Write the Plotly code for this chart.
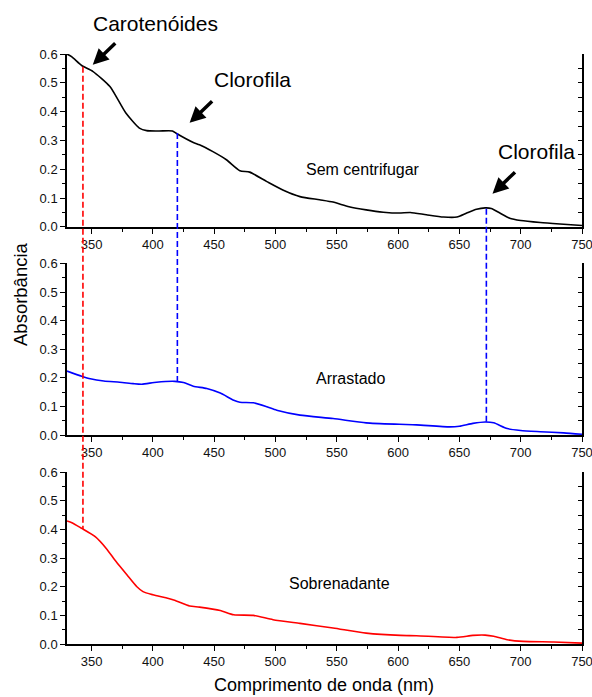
import plotly.graph_objects as go

# ---------------- data ----------------
wl_sem = [330, 334, 342, 351, 365, 378, 389, 395, 405, 416, 419, 433, 438, 449, 460, 471, 479, 493, 506, 520,
          536, 547, 560, 574, 588, 601, 610, 623, 637, 648, 656, 664, 671, 676, 683, 691, 700, 716, 732, 750]
abs_sem = [0.600, 0.590, 0.560, 0.540, 0.487, 0.395, 0.343, 0.334, 0.333, 0.333, 0.325, 0.293, 0.285, 0.261,
           0.233, 0.195, 0.190, 0.157, 0.128, 0.105, 0.094, 0.086, 0.070, 0.059, 0.051, 0.048, 0.050, 0.042,
           0.034, 0.034, 0.048, 0.061, 0.066, 0.064, 0.048, 0.030, 0.022, 0.015, 0.010, 0.005]

wl_arr = [330, 342, 349, 360, 373, 384, 391, 403, 418, 425, 433, 444, 455, 466, 471, 482, 493, 501, 520,
          547, 574, 601, 615, 642, 650, 661, 671, 678, 689, 700, 716, 735, 750]
abs_arr = [0.224, 0.206, 0.197, 0.189, 0.185, 0.180, 0.178, 0.185, 0.188, 0.184, 0.171, 0.163, 0.147, 0.122,
           0.115, 0.113, 0.099, 0.087, 0.070, 0.058, 0.043, 0.038, 0.036, 0.029, 0.031, 0.041, 0.046, 0.043,
           0.023, 0.016, 0.012, 0.008, 0.003]

wl_sob = [330, 334, 342, 353, 362, 370, 379, 387, 392, 400, 417, 430, 438, 455, 466, 482, 498, 520,
          547, 574, 602, 615, 648, 661, 671, 678, 689, 702, 727, 750]
abs_sob = [0.430, 0.424, 0.404, 0.375, 0.334, 0.288, 0.241, 0.200, 0.183, 0.172, 0.154, 0.133, 0.129, 0.117,
           0.102, 0.100, 0.085, 0.072, 0.056, 0.038, 0.030, 0.029, 0.023, 0.030, 0.031, 0.027, 0.015, 0.009,
           0.007, 0.003]

panel_names = ["Sem centrifugar", "Arrastado", "Sobrenadante"]
panel_colors = ["black", "#0000ff", "#ff0000"]

# dashed guide lines: wavelength, (panel, value) top, (panel, value) bottom, colour
guide_wl = [343, 420, 672]
guide_top = [(0, 0.556), (0, 0.326), (0, 0.063)]
guide_bottom = [(2, 0.402), (1, 0.189), (1, 0.047)]
guide_colors = ["#ff0000", "#0000ff", "#0000ff"]

# peak labels with arrows (panel 1): text, arrow head (wl, abs), label centre (wl, abs)
peak_labels = ["Carotenóides", "Clorofila", "Clorofila"]
arrow_heads = [(351, 0.5625), (430, 0.361), (677, 0.115)]
label_pos = [(402, 0.705), (481, 0.51), (713, 0.26)]
name_pos = [(571, 0.20), (561, 0.199), (552, 0.21)]

# ---------------- figure ----------------
domains = [[0.707, 1.0], [0.354, 0.645], [0.0, 0.291]]
YMAX = 0.6
FONT = "Liberation Sans, Arial, sans-serif"

def to_paper(panel, v):
    d0, d1 = domains[panel]
    return d0 + v / YMAX * (d1 - d0)

fig = go.Figure()
series = [(wl_sem, abs_sem), (wl_arr, abs_arr), (wl_sob, abs_sob)]
for i, (xs, ys) in enumerate(series):
    sfx = "" if i == 0 else str(i + 1)
    fig.add_trace(go.Scatter(x=xs, y=ys, mode="lines", xaxis="x" + sfx, yaxis="y" + sfx,
                             line=dict(color=panel_colors[i], width=1.6, shape="spline", smoothing=0.6),
                             showlegend=False, hoverinfo="skip"))
    # invisible trace for right-hand tick axis
    fig.add_trace(go.Scatter(x=[None], y=[None], xaxis="x" + sfx, yaxis="y" + str(i + 4),
                             showlegend=False, hoverinfo="skip"))

layout = dict(width=592, height=697, margin=dict(l=67, r=10, t=54, b=53, autoexpand=False),
              paper_bgcolor="white", plot_bgcolor="white",
              font=dict(family=FONT, color="black", size=13), showlegend=False)

for i in range(3):
    sfx = "" if i == 0 else str(i + 1)
    layout["xaxis" + sfx] = dict(
        range=[330, 750], domain=[0, 1], anchor="y" + sfx, tick0=350, dtick=50,
        ticks="outside", ticklen=5, tickwidth=1.2, tickcolor="black",
        showline=True, linecolor="black", linewidth=1.5, showgrid=False, zeroline=False,
        tickfont=dict(size=13, color="#111"), ticklabeloverflow="allow",
        minor=dict(ticks="outside", dtick=25, tick0=350, ticklen=3, tickcolor="black", tickwidth=1.2),
    )
    layout["yaxis" + sfx] = dict(
        range=[0, YMAX], domain=domains[i], anchor="x" + sfx, dtick=0.1, tickformat=".1f",
        ticks="outside", ticklen=5, tickwidth=1.2, tickcolor="black",
        showline=True, linecolor="black", linewidth=1.5, showgrid=False, zeroline=False,
        tickfont=dict(size=13, color="#111"),
        minor=dict(ticks="outside", dtick=0.05, ticklen=3, tickcolor="black", tickwidth=1.2),
    )
    layout["yaxis" + str(i + 4)] = dict(
        range=[0, YMAX], overlaying="y" + sfx, side="right", anchor="x" + sfx,
        dtick=0.05, ticks="inside", ticklen=4, tickwidth=1.2, tickcolor="black",
        showticklabels=False, showline=True, linecolor="black", linewidth=1.5,
        showgrid=False, zeroline=False,
    )

fig.update_layout(**layout)

# dashed guides
for wl, (tp, tv), (bp, bv), col in zip(guide_wl, guide_top, guide_bottom, guide_colors):
    fig.add_shape(type="line", xref="x", yref="paper", x0=wl, x1=wl,
                  y0=to_paper(tp, tv), y1=to_paper(bp, bv),
                  line=dict(color=col, width=1.6, dash="6px,3px"))

# peak labels and arrows
for txt, (hx, hy), (lx, ly) in zip(peak_labels, arrow_heads, label_pos):
    fig.add_annotation(x=lx, y=to_paper(0, ly), xref="x", yref="paper", text=txt, showarrow=False,
                       xanchor="center", yanchor="middle", font=dict(size=21, color="black"))
    fig.add_annotation(x=hx, y=hy, xref="x", yref="y", text="", showarrow=True,
                       ax=24, ay=-23, arrowhead=2, arrowsize=0.9, arrowwidth=3.5,
                       arrowcolor="black", standoff=0)

# panel names
for i, (nx, ny) in enumerate(name_pos):
    sfx = "" if i == 0 else str(i + 1)
    fig.add_annotation(x=nx, y=ny, xref="x" + sfx, yref="y" + sfx, text=panel_names[i],
                       showarrow=False, xanchor="center", yanchor="middle",
                       font=dict(size=16, color="black"))

# axis titles
fig.add_annotation(x=-47 / 515, y=(644 - 294) / 590, xref="paper", yref="paper", text="Absorbância",
                   textangle=-90, showarrow=False, xanchor="center", yanchor="middle",
                   font=dict(size=18.5, color="black"))
fig.add_annotation(x=(324 - 67) / 515, y=-41 / 590, xref="paper", yref="paper",
                   text="Comprimento de onda (nm)", showarrow=False, xanchor="center", yanchor="middle",
                   font=dict(size=18, color="black"))

fig.write_html("out.html", config={"displayModeBar": False},
               post_script="document.body.style.margin='0';document.body.style.overflow='hidden';")
